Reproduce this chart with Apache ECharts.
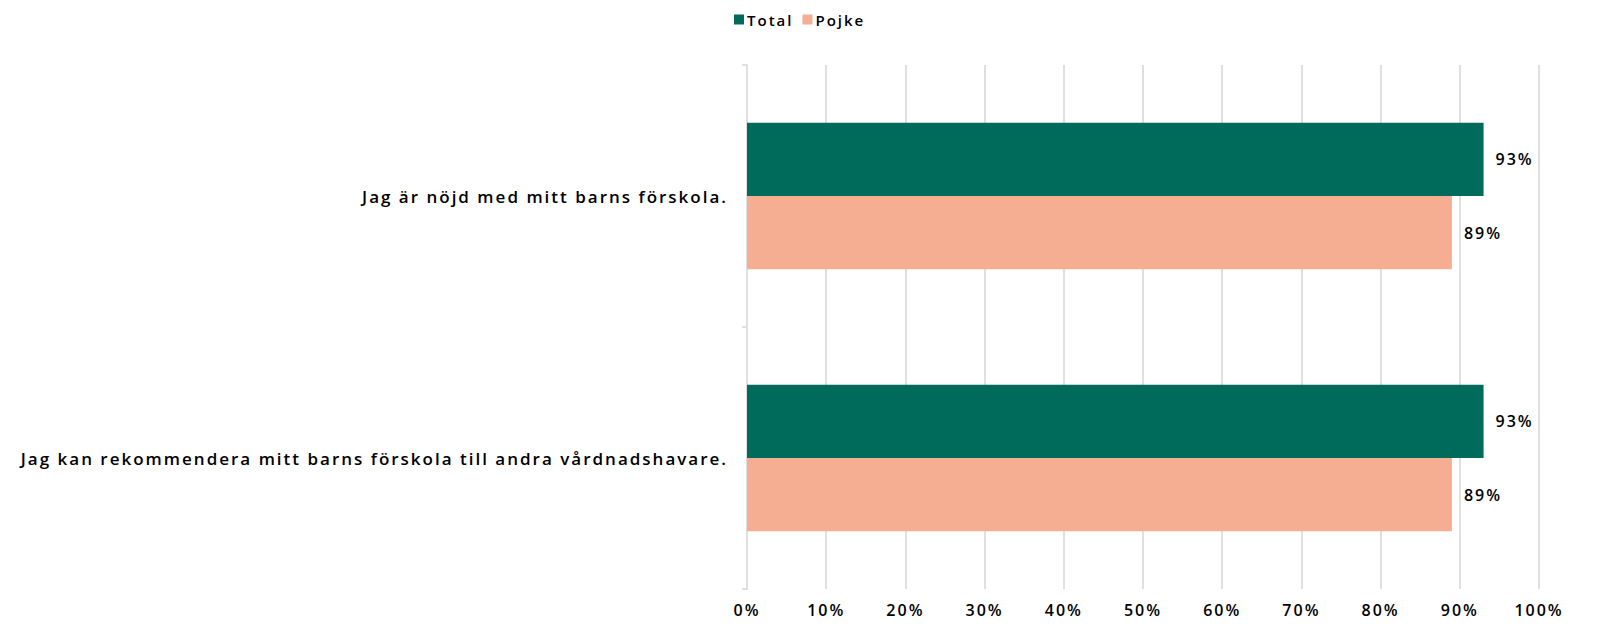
<!DOCTYPE html>
<html><head><meta charset="utf-8">
<script src="https://cdn.jsdelivr.net/npm/echarts@6/dist/echarts.min.js"></script>
<style>html,body{margin:0;padding:0;background:#fff}#c{width:1597px;height:630px}
#c svg text{letter-spacing:2px}</style>
</head><body><div id="c"></div>
<script>
const categories = ["Jag är nöjd med mitt barns förskola.", "Jag kan rekommendera mitt barns förskola till andra vårdnadshavare."];
const seriesNames = ["Total", "Pojke"];
const totalValues = [0.93, 0.93];
const pojkeValues = [0.89, 0.89];
const colors = ["#006B5B", "#F6AE92"];
const font = "Open Sans";
const chart = echarts.init(document.getElementById('c'), null, { renderer: 'svg' });
const pct = v => Math.round(v * 100) + '%';
chart.setOption({
  animation: false,
  textStyle: { fontFamily: font },
  legend: {
    top: 7, left: 729, itemWidth: 10, itemHeight: 10, itemGap: 19,
    icon: 'rect',
    textStyle: { fontFamily: font, fontSize: 15, color: '#000', fontWeight: 600, padding: [0, 0, 0, -2] },
    data: seriesNames
  },
  grid: { left: 747, right: 58, top: 65, bottom: 41, containLabel: false },
  xAxis: {
    type: 'value', min: 0, max: 1, interval: 0.1,
    axisLine: { show: false }, axisTick: { show: false },
    splitLine: { lineStyle: { color: '#e0e0e0', width: 2 } },
    axisLabel: { formatter: pct, fontFamily: font, fontSize: 16, fontWeight: 600, color: '#000', margin: 13 }
  },
  yAxis: {
    type: 'category', inverse: true, data: categories,
    axisLine: { lineStyle: { color: '#e0e0e0', width: 2 } },
    axisTick: { show: true, length: 5, lineStyle: { color: '#e0e0e0', width: 2 } },
    axisLabel: { fontFamily: font, fontSize: 17, fontWeight: 600, color: '#000', margin: 19 }
  },
  series: [
    { name: seriesNames[0], type: 'bar', data: totalValues, itemStyle: { color: colors[0] },
      barGap: '0%', barCategoryGap: '44%',
      label: { show: true, position: 'right', distance: 12, formatter: p => pct(p.value), fontFamily: font, fontSize: 16, fontWeight: 600, color: '#000' } },
    { name: seriesNames[1], type: 'bar', data: pojkeValues, itemStyle: { color: colors[1] },
      barGap: '0%', barCategoryGap: '44%',
      label: { show: true, position: 'right', distance: 12, formatter: p => pct(p.value), fontFamily: font, fontSize: 16, fontWeight: 600, color: '#000' } }
  ]
});
</script></body></html>
